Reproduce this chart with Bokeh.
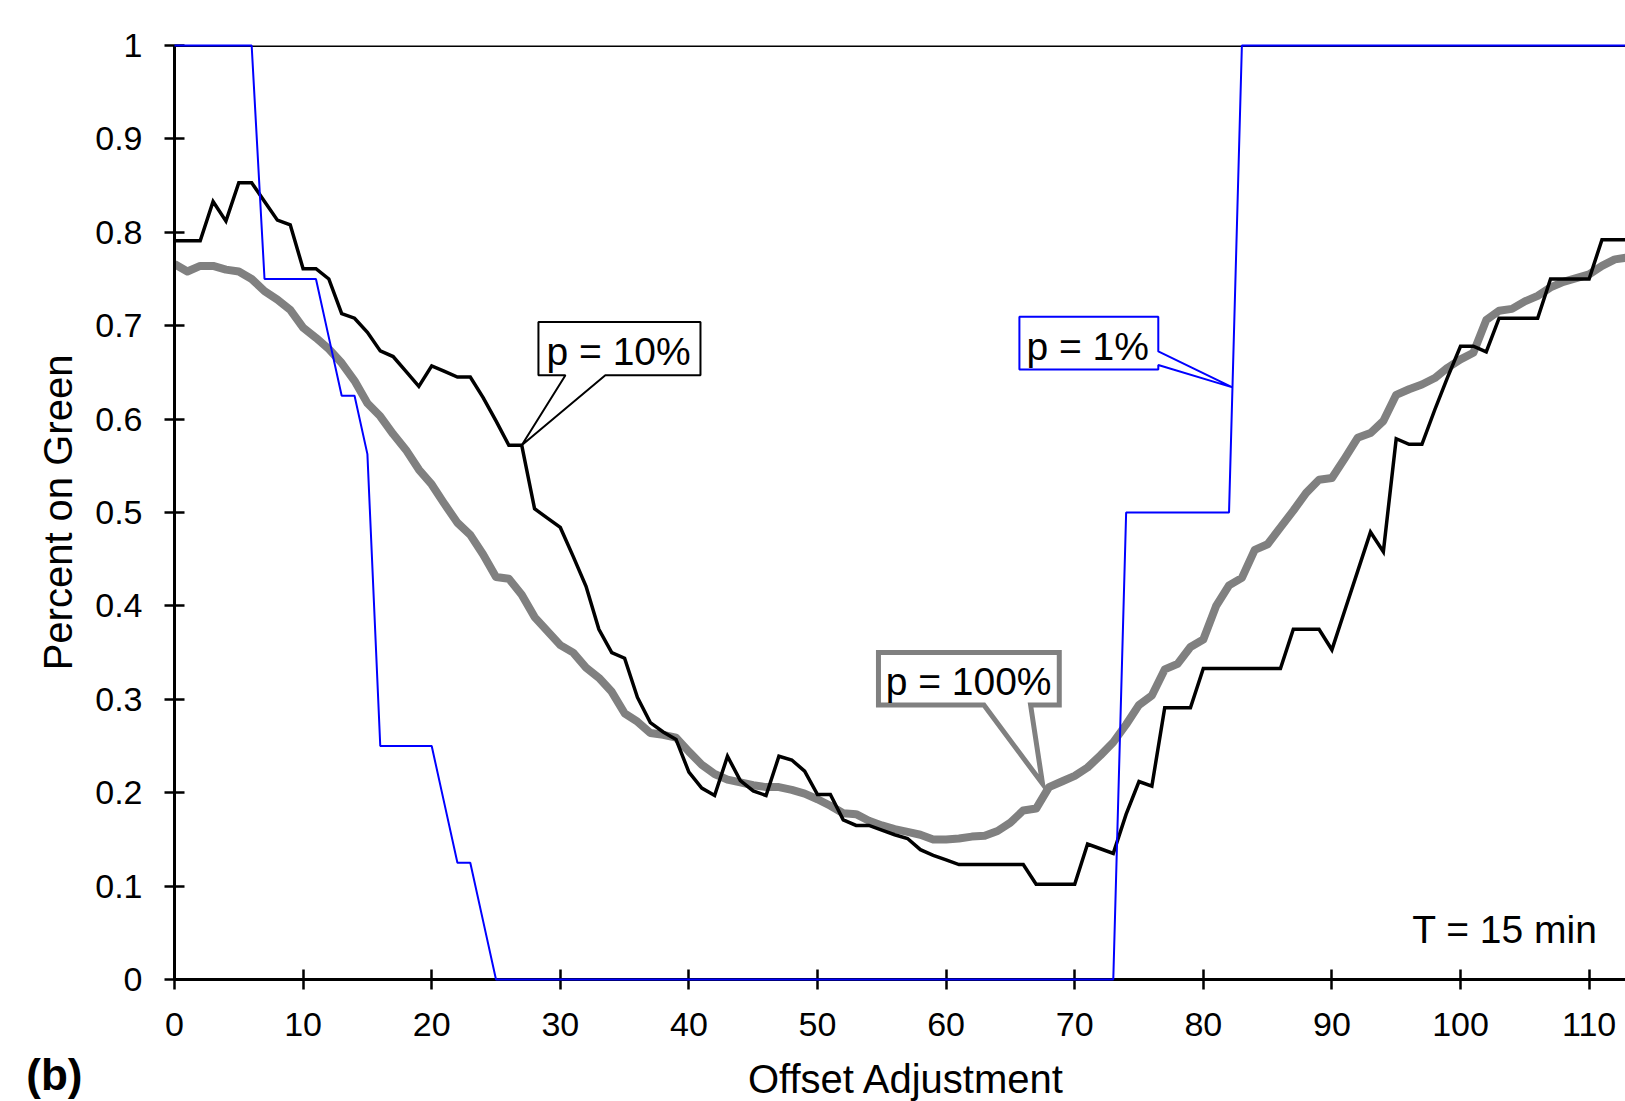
from bokeh.plotting import figure
from bokeh.layouts import column
from bokeh.models import Range1d, FixedTicker, Span, Label
from bokeh.embed import file_html
from bokeh.resources import INLINE

# ---------------- data ----------------
offset = list(range(0, 114))

# p = 100% (thick gray)
p100 = [0.766, 0.758, 0.764, 0.764, 0.760, 0.758, 0.750, 0.737, 0.728, 0.717,
        0.698, 0.687, 0.675, 0.660, 0.641, 0.617, 0.603, 0.584, 0.567, 0.546,
        0.530, 0.509, 0.489, 0.476, 0.455, 0.431, 0.429, 0.412, 0.388, 0.373,
        0.358, 0.350, 0.334, 0.323, 0.308, 0.285, 0.276, 0.264, 0.262, 0.259,
        0.244, 0.230, 0.220, 0.214, 0.211, 0.208, 0.206, 0.206, 0.203, 0.199,
        0.193, 0.186, 0.178, 0.177, 0.170, 0.165, 0.161, 0.158, 0.155, 0.150,
        0.150, 0.151, 0.153, 0.154, 0.159, 0.168, 0.181, 0.183, 0.206, 0.212,
        0.218, 0.227, 0.240, 0.254, 0.273, 0.294, 0.304, 0.332, 0.338, 0.356,
        0.364, 0.400, 0.422, 0.430, 0.460, 0.466, 0.484, 0.502, 0.521, 0.535,
        0.537, 0.558, 0.580, 0.585, 0.598, 0.626, 0.632, 0.637, 0.644, 0.655,
        0.664, 0.671, 0.706, 0.716, 0.718, 0.726, 0.732, 0.741, 0.747, 0.751,
        0.755, 0.764, 0.771, 0.773]

# p = 10% (black)
p10 = [0.791, 0.791, 0.791, 0.833, 0.812, 0.853, 0.853, 0.833, 0.813, 0.808,
       0.761, 0.761, 0.750, 0.713, 0.708, 0.693, 0.673, 0.667, 0.651, 0.635,
       0.657, 0.651, 0.645, 0.645, 0.623, 0.598, 0.572, 0.572, 0.504, 0.494,
       0.484, 0.453, 0.421, 0.375, 0.350, 0.344, 0.302, 0.275, 0.265, 0.257,
       0.222, 0.205, 0.197, 0.239, 0.213, 0.202, 0.197, 0.239, 0.235, 0.223,
       0.198, 0.198, 0.171, 0.165, 0.165, 0.160, 0.155, 0.151, 0.139, 0.133,
       0.128, 0.123, 0.123, 0.123, 0.123, 0.123, 0.123, 0.102, 0.102, 0.102,
       0.102, 0.145, 0.140, 0.135, 0.177, 0.212, 0.207, 0.291, 0.291, 0.291,
       0.333, 0.333, 0.333, 0.333, 0.333, 0.333, 0.333, 0.375, 0.375, 0.375,
       0.353, 0.395, 0.437, 0.479, 0.458, 0.579, 0.573, 0.573, 0.610, 0.645,
       0.678, 0.678, 0.672, 0.708, 0.708, 0.708, 0.708, 0.750, 0.750, 0.750,
       0.750, 0.792, 0.792, 0.792]

# p = 1% (blue)
p1 = [1.0, 1.0, 1.0, 1.0, 1.0, 1.0, 1.0, 0.75, 0.75, 0.75,
      0.75, 0.75, 0.6875, 0.625, 0.625, 0.5625, 0.25, 0.25, 0.25, 0.25,
      0.25, 0.1875, 0.125, 0.125, 0.0625, 0.0, 0.0, 0.0, 0.0, 0.0,
      0.0, 0.0, 0.0, 0.0, 0.0, 0.0, 0.0, 0.0, 0.0, 0.0,
      0.0, 0.0, 0.0, 0.0, 0.0, 0.0, 0.0, 0.0, 0.0, 0.0,
      0.0, 0.0, 0.0, 0.0, 0.0, 0.0, 0.0, 0.0, 0.0, 0.0,
      0.0, 0.0, 0.0, 0.0, 0.0, 0.0, 0.0, 0.0, 0.0, 0.0,
      0.0, 0.0, 0.0, 0.0, 0.5, 0.5, 0.5, 0.5, 0.5, 0.5,
      0.5, 0.5, 0.5, 1.0, 1.0, 1.0, 1.0, 1.0, 1.0, 1.0,
      1.0, 1.0, 1.0, 1.0, 1.0, 1.0, 1.0, 1.0, 1.0, 1.0,
      1.0, 1.0, 1.0, 1.0, 1.0, 1.0, 1.0, 1.0, 1.0, 1.0,
      1.0, 1.0, 1.0, 1.0]

x_ticks = [0, 10, 20, 30, 40, 50, 60, 70, 80, 90, 100, 110]
x_tick_labels = ["0", "10", "20", "30", "40", "50", "60", "70", "80", "90", "100", "110"]
y_ticks = [0, 0.1, 0.2, 0.3, 0.4, 0.5, 0.6, 0.7, 0.8, 0.9, 1]
y_tick_labels = ["0", "0.1", "0.2", "0.3", "0.4", "0.5", "0.6", "0.7", "0.8", "0.9", "1"]

x_title = "Offset Adjustment"
y_title = "Percent on Green"
panel_tag = "(b)"

FONT = "Liberation Sans"
GRAY = "#808080"
BLUE = "#0000FF"

# ---------------- main figure ----------------
p = figure(width=1625, height=1047, output_backend="svg", toolbar_location=None,
           x_range=Range1d(0, 112.83), y_range=Range1d(0, 1),
           min_border_left=174, min_border_right=0, min_border_top=45, min_border_bottom=68,
           background_fill_color="white", border_fill_color="white",
           outline_line_color=None)
p.xgrid.visible = False
p.ygrid.visible = False

for ax in (p.xaxis[0], p.yaxis[0]):
    ax.axis_line_color = "black"
    ax.axis_line_width = 3
    ax.major_tick_line_color = "black"
    ax.major_tick_line_width = 2.5
    ax.major_tick_in = 10
    ax.major_tick_out = 10
    ax.minor_tick_line_color = None
    ax.major_label_text_font = FONT
    ax.major_label_text_font_size = "34px"
    ax.major_label_text_color = "black"
    ax.axis_label_text_font = FONT
    ax.axis_label_text_font_size = "40px"
    ax.axis_label_text_font_style = "normal"
    ax.axis_label_text_color = "black"

p.xaxis.ticker = FixedTicker(ticks=x_ticks)
p.xaxis.major_label_overrides = dict(zip(x_ticks, x_tick_labels))
p.xaxis.major_label_standoff = 23

p.yaxis.ticker = FixedTicker(ticks=y_ticks)
p.yaxis.major_label_overrides = dict(zip(y_ticks, y_tick_labels))
p.yaxis.major_label_standoff = 22
p.yaxis.axis_label = y_title
p.yaxis.axis_label_standoff = 12

# top border line
p.add_layout(Span(location=1, dimension="width", line_color="black", line_width=3))

# ---------------- series ----------------
p.line(offset, p100, line_color=GRAY, line_width=8, line_join="round")
p.line(offset, p10, line_color="black", line_width=3.5, line_join="miter")
rb = p.line(offset, p1, line_color=BLUE, line_width=2)
rb.level = "overlay"

# ---------------- callouts ----------------
# p = 10%
tip10 = (offset[27], p10[27])
p.patch([28.3, 40.9, 40.9, 33.5, tip10[0], 30.4, 28.3],
        [0.704, 0.704, 0.647, 0.647, tip10[1], 0.647, 0.647],
        fill_color="white", line_color="black", line_width=2)
p.add_layout(Label(x=28.93, y=0.6726, text="p = 10%", text_font=FONT,
                   text_font_size="39px", text_color="black", text_baseline="alphabetic"))

# p = 1%
p.patch([65.7, 76.5, 76.5, 82.27, 76.5, 76.5, 65.7],
        [0.7095, 0.7095, 0.6725, 0.634, 0.658, 0.653, 0.653],
        fill_color="white", line_color=BLUE, line_width=2)
p.add_layout(Label(x=66.25, y=0.678, text="p = 1%", text_font=FONT,
                   text_font_size="39px", text_color="black", text_baseline="alphabetic"))

# p = 100%
p.patch([54.74, 68.8, 68.8, 66.57, 67.5, 62.94, 54.74],
        [0.350, 0.350, 0.2938, 0.2938, 0.2095, 0.2938, 0.2938],
        fill_color="white", line_color=GRAY, line_width=5, line_join="miter")
p.add_layout(Label(x=55.3, y=0.3193, text="p = 100%", text_font=FONT,
                   text_font_size="39px", text_color="black", text_baseline="alphabetic"))

# T = 15 min
p.add_layout(Label(x=96.25, y=0.0533, text="T = 15 min", text_font=FONT,
                   text_font_size="39px", text_color="black", text_baseline="alphabetic"))

# ---------------- bottom strip: x-axis title and panel tag ----------------
# (its frame is aligned with the main frame, so x here is in page pixels)
q = figure(width=1625, height=54, output_backend="svg", toolbar_location=None,
           x_range=Range1d(174, 1625), y_range=Range1d(54, 0),
           x_axis_type=None,
           min_border_left=0, min_border_right=0, min_border_top=0, min_border_bottom=0,
           background_fill_color="white", border_fill_color="white",
           outline_line_color=None)
q.xgrid.visible = False
q.ygrid.visible = False
qa = q.yaxis[0]
qa.ticker = FixedTicker(ticks=[])
qa.axis_line_color = None
qa.major_tick_line_color = None
qa.minor_tick_line_color = None
qa.major_tick_in = 0
qa.major_tick_out = 0
qa.minor_tick_in = 0
qa.minor_tick_out = 0
qa.axis_label = panel_tag
qa.axis_label_orientation = "horizontal"
qa.axis_label_text_font = FONT
qa.axis_label_text_font_size = "44px"
qa.axis_label_text_font_style = "bold"
qa.axis_label_text_color = "black"
qa.axis_label_standoff = 92

q.add_layout(Label(x=906, y=31.0, text=x_title, text_font=FONT, text_align="center",
                   text_font_size="40px", text_color="black", text_baseline="alphabetic"))

layout = column(p, q, spacing=0)
open("out.html", "w").write(file_html(layout, INLINE))
